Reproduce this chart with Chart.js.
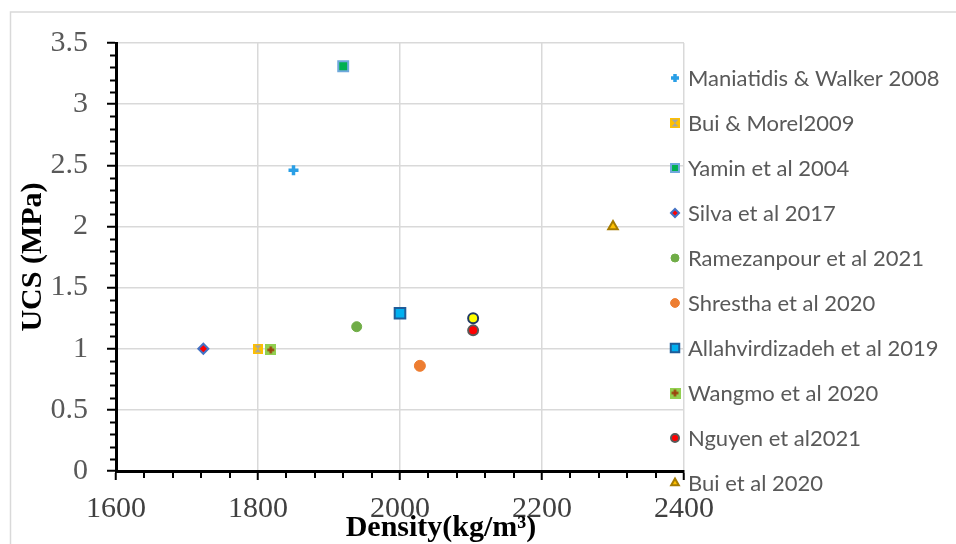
<!DOCTYPE html>
<html lang="en">
<head>
    <meta charset="UTF-8">
    <title>UCS vs Density</title>
    <style>
        body { margin: 0; background: #fff; }
        #wrap { position: relative; width: 956px; height: 544px; }
    </style>
    <script src="https://cdn.jsdelivr.net/npm/chart.js"></script>
</head>
<body>
    <div id="wrap">
        <canvas id="myChart" width="956" height="544"></canvas>
    </div>

    <script>
        // Series (one point per study)
        const seriesNames = [
            'Maniatidis & Walker 2008',
            'Bui & Morel2009',
            'Yamin et al 2004',
            'Silva et al 2017',
            'Ramezanpour et al 2021',
            'Shrestha et al 2020',
            'Allahvirdizadeh et al 2019',
            'Wangmo et al 2020',
            'Nguyen et al2021',
            '',                 // yellow point, no legend entry
            'Bui et al 2020'
        ];
        const densityValues = [1850, 1800, 1920, 1723, 1939, 2028, 2000, 1818, 2103, 2103, 2300];
        const ucsValues = [2.46, 1.0, 3.31, 1.0, 1.18, 0.86, 1.29, 0.99, 1.15, 1.25, 2.0];

        const xTicks = [1600, 1800, 2000, 2200, 2400];
        const yTicks = [0, 0.5, 1, 1.5, 2, 2.5, 3, 3.5];

        // little canvases for the two composite markers
        function makeMark(size, draw) {
            const c = document.createElement('canvas');
            c.width = size; c.height = size;
            draw(c.getContext('2d'), size);
            return c;
        }
        const buiMorelMark = makeMark(10, (g, s) => {
            g.fillStyle = '#ffc000';
            g.fillRect(0, 0, s, s);
            g.fillStyle = '#a5a5a5';
            g.beginPath();
            g.moveTo(1.5, 1.5); g.lineTo(s - 1.5, 1.5); g.lineTo(s / 2, s / 2); g.closePath();
            g.moveTo(1.5, s - 1.5); g.lineTo(s - 1.5, s - 1.5); g.lineTo(s / 2, s / 2); g.closePath();
            g.fill();
        });
        const wangmoMark = makeMark(11, (g, s) => {
            g.fillStyle = '#92d050';
            g.fillRect(0, 0, s, s);
            g.strokeStyle = '#9c430d';
            g.lineWidth = 2.4;
            g.beginPath();
            g.moveTo(s / 2, 2); g.lineTo(s / 2, s - 2);
            g.moveTo(2, s / 2); g.lineTo(s - 2, s / 2);
            g.stroke();
        });

        const markStyles = [
            { pointStyle: 'cross', pointRadius: 5, backgroundColor: '#2a9fe6', borderColor: '#2a9fe6', borderWidth: 3.5 },
            { pointStyle: buiMorelMark, pointRadius: 5, backgroundColor: '#ffc000', borderColor: '#ffc000', borderWidth: 0 },
            { pointStyle: 'rect', pointRadius: 7, backgroundColor: '#00b050', borderColor: '#6fa8dc', borderWidth: 2 },
            { pointStyle: 'rectRot', pointRadius: 5, backgroundColor: '#ff0000', borderColor: '#4472c4', borderWidth: 2 },
            { pointStyle: 'circle', pointRadius: 5, backgroundColor: '#70ad47', borderColor: '#70ad47', borderWidth: 1 },
            { pointStyle: 'circle', pointRadius: 5.5, backgroundColor: '#ed7d31', borderColor: '#ed7d31', borderWidth: 1 },
            { pointStyle: 'rect', pointRadius: 7.5, backgroundColor: '#00b0f0', borderColor: '#1f5c99', borderWidth: 2 },
            { pointStyle: wangmoMark, pointRadius: 5.5, backgroundColor: '#92d050', borderColor: '#92d050', borderWidth: 0 },
            { pointStyle: 'circle', pointRadius: 5, backgroundColor: '#ff0000', borderColor: '#595959', borderWidth: 2 },
            { pointStyle: 'circle', pointRadius: 5, backgroundColor: '#ffff00', borderColor: '#1f3864', borderWidth: 2 },
            { pointStyle: 'triangle', pointRadius: 5.5, backgroundColor: '#ffc000', borderColor: '#a67c00', borderWidth: 2 }
        ];

        const datasets = seriesNames.map((name, i) => Object.assign({
            label: name,
            data: [{ x: densityValues[i], y: ucsValues[i] }],
            pointHoverRadius: markStyles[i].pointRadius
        }, markStyles[i]));

        const serif = "'Liberation Serif', 'Times New Roman', serif";

        // light grey frame round the whole chart
        const framePlugin = {
            id: 'frame',
            beforeDraw(chart) {
                const ctx = chart.ctx;
                ctx.save();
                ctx.strokeStyle = '#d9d9d9';
                ctx.lineWidth = 1.5;
                ctx.strokeRect(10.5, 12, 2000, 2000);
                ctx.restore();
            }
        };

        // minor tick marks (every 0.1 on y, every 40 on x)
        const minorTicksPlugin = {
            id: 'minorTicks',
            afterDraw(chart) {
                const ctx = chart.ctx;
                const xs = chart.scales.x, ys = chart.scales.y;
                const left = chart.chartArea.left, bottom = chart.chartArea.bottom;
                ctx.save();
                ctx.strokeStyle = '#000';
                ctx.lineWidth = 2;
                ctx.beginPath();
                for (let k = 1; k < 35; k++) {
                    if (k % 5 === 0) continue;
                    const py = Math.round(ys.getPixelForValue(k / 10)) + 0.5;
                    ctx.moveTo(left - 6, py); ctx.lineTo(left, py);
                }
                for (let v = 1640; v < 2400; v += 40) {
                    if (v % 200 === 0) continue;
                    const px = Math.round(xs.getPixelForValue(v));
                    ctx.moveTo(px, bottom); ctx.lineTo(px, bottom + 7);
                }
                ctx.stroke();
                ctx.restore();
            }
        };

        // legend drawn at the right, partly over the plot like the original
        const sideLegendPlugin = {
            id: 'sideLegend',
            afterDraw(chart) {
                const ctx = chart.ctx;
                const markX = chart.chartArea.right - 9;
                let row = 0;
                chart.data.datasets.forEach(ds => {
                    if (!ds.label) return;
                    const y = 78 + row * 45;
                    ctx.save();
                    ctx.fillStyle = ds.backgroundColor;
                    ctx.strokeStyle = ds.borderColor;
                    ctx.lineWidth = ds.borderWidth;
                    Chart.helpers.drawPoint(ctx, {
                        pointStyle: ds.pointStyle,
                        radius: ds.pointRadius * 0.8,
                        rotation: 0,
                        borderWidth: ds.borderWidth
                    }, markX, y);
                    ctx.restore();
                    ctx.save();
                    ctx.fillStyle = '#595959';
                    ctx.font = "22px Lato, 'Open Sans', sans-serif";
                    ctx.textBaseline = 'middle';
                    ctx.textAlign = 'left';
                    ctx.fillText(ds.label, markX + 13, y + 1);
                    ctx.restore();
                    row++;
                });
            }
        };

        // x axis title sits a little right of centre in the original
        const xTitlePlugin = {
            id: 'xTitle',
            afterDraw(chart) {
                const ctx = chart.ctx;
                const a = chart.chartArea;
                ctx.save();
                ctx.fillStyle = '#000';
                ctx.font = 'bold 30px ' + serif;
                ctx.textAlign = 'center';
                ctx.textBaseline = 'alphabetic';
                ctx.fillText('Density(kg/m\u00b3)', (a.left + a.right) / 2 + 41, 536);
                ctx.restore();
            }
        };

        const ctx = document.getElementById('myChart').getContext('2d');
        const myChart = new Chart(ctx, {
            type: 'scatter',
            data: { datasets: datasets },
            plugins: [framePlugin, minorTicksPlugin, sideLegendPlugin, xTitlePlugin],
            options: {
                responsive: false,
                animation: false,
                layout: { padding: { top: 43, right: 272, left: 0, bottom: 0 } },
                plugins: {
                    legend: { display: false },
                    tooltip: { enabled: false }
                },
                scales: {
                    x: {
                        type: 'linear',
                        min: xTicks[0],
                        max: xTicks[xTicks.length - 1],
                        afterBuildTicks: s => { s.ticks = xTicks.map(v => ({ value: v })); },
                        afterFit: s => { s.height = 73; },
                        ticks: {
                            callback: v => String(v),
                            color: '#404040',
                            font: { family: serif, size: 30 },
                            padding: 11,
                            maxRotation: 0
                        },
                        grid: { color: '#d9d9d9', lineWidth: 1.5, tickColor: '#000', tickLength: 9, tickWidth: 2 },
                        border: { color: '#000', width: 3 }
                    },
                    y: {
                        min: yTicks[0],
                        max: yTicks[yTicks.length - 1],
                        afterBuildTicks: s => { s.ticks = yTicks.map(v => ({ value: v })); },
                        afterFit: s => { s.width = 116; },
                        ticks: {
                            callback: v => String(v),
                            color: '#595959',
                            font: { family: serif, size: 30 },
                            padding: 19
                        },
                        grid: { color: '#d9d9d9', lineWidth: 1.5, tickColor: '#000', tickLength: 9, tickWidth: 2 },
                        border: { color: '#000', width: 3 },
                        title: {
                            display: true,
                            text: 'UCS (MPa)',
                            color: '#000',
                            font: { family: serif, size: 30, weight: 'bold' },
                            padding: { top: 15, bottom: 0 }
                        }
                    }
                }
            }
        });
    </script>
</body>
</html>
